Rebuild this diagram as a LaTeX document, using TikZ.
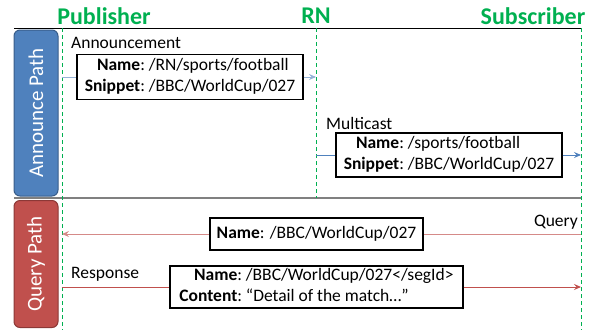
\documentclass[tikz,border=0pt]{standalone}
\usepackage{fontspec}
\setmainfont{Carlito}
\usetikzlibrary{arrows.meta}

\definecolor{lifegreen}{HTML}{00B050}
\definecolor{annblue}{HTML}{4F81BD}
\definecolor{annblueline}{HTML}{385D8A}
\definecolor{qryred}{HTML}{C0504D}
\definecolor{qryredline}{HTML}{8C3836}
\definecolor{lightblue}{HTML}{95B3D7}
\definecolor{lightred}{HTML}{D58A88}

\begin{document}
\begin{tikzpicture}[x=1pt, y=-1pt,
    actor/.style={font=\fontsize{24}{26}\selectfont\bfseries, text=lifegreen},
    lifeline/.style={lifegreen, dashed, dash pattern=on 4pt off 3pt, line width=1pt},
    pathbox/.style={rounded corners=6pt, line width=1pt, minimum height=44pt, rotate=90,
        text=white, font=\fontsize{21}{24}\selectfont},
    msgbox/.style={draw=black, fill=white, line width=1.3pt, inner sep=0pt,
        font=\fontsize{17.5}{21}\selectfont},
    msglabel/.style={font=\fontsize{17.5}{20}\selectfont, inner sep=0pt},
    msg/.style={-{Stealth[length=7pt, width=6pt, inset=2.5pt]}, line width=0.9pt}
]
    \useasboundingbox (0,0) rectangle (593,330);

    % Actors
    \node[actor] (publisher) at (104,16) {Publisher};
    \node[actor] (rn) at (316,16) {RN};
    \node[actor] (subscriber) at (533,16) {Subscriber};

    % Top and middle rules
    \coordinate (topL) at (14,28);
    \coordinate (topR) at (582,28);
    \coordinate (midL) at (14,198);
    \coordinate (midR) at (582,198);
    \draw[line width=0.9pt] (topL) -- (topR);
    \draw[gray, line width=1.5pt] (midL) -- (midR);

    % Path labels
    \node[pathbox, fill=annblue, draw=annblueline, minimum width=166pt] (announce) at (36,113) {Announce Path};
    \node[pathbox, fill=qryred, draw=qryredline, minimum width=127pt] (query) at (36,264) {Query Path};

    % Lifelines
    \coordinate (pubTop) at (62,28);
    \coordinate (pubBot) at (62,330);
    \coordinate (rnTop) at (316,28);
    \coordinate (rnBot) at (316,198);
    \coordinate (subTop) at (581,28);
    \coordinate (subBot) at (581,330);
    \draw[lifeline] (pubTop) -- (pubBot);
    \draw[lifeline] (rnTop) -- (rnBot);
    \draw[lifeline] (subTop) -- (subBot);

    % Announcement: Publisher -> RN
    \coordinate (pubA) at (62,77);
    \coordinate (rnA) at (316,77);
    \node[msglabel, anchor=west] (annlabel) at (71,43) {Announcement};
    \node[msgbox, minimum width=226pt, minimum height=45pt] (annbox) at (190,77) {%
        \begin{tabular}{@{}r@{:~}l@{}}
        \textbf{Name} & /RN/sports/football\\
        \textbf{Snippet} & /BBC/WorldCup/027
        \end{tabular}};
    \draw[lightblue, line width=0.9pt] (pubA) -- (annbox.west);
    \draw[msg, lightblue] (annbox.east) -- (rnA);

    % Multicast: RN -> Subscriber
    \coordinate (rnM) at (316,155);
    \coordinate (subM) at (581,155);
    \node[msglabel, anchor=west] (mcastlabel) at (326,123) {Multicast};
    \node[msgbox, minimum width=226pt, minimum height=44pt] (mcastbox) at (449,155) {%
        \begin{tabular}{@{}r@{:~}l@{}}
        \textbf{Name} & /sports/football\\
        \textbf{Snippet} & /BBC/WorldCup/027
        \end{tabular}};
    \draw[annblue, line width=0.9pt] (rnM) -- (mcastbox.west);
    \draw[msg, annblue] (mcastbox.east) -- (subM);

    % Query: Subscriber -> Publisher
    \coordinate (subQ) at (581,234);
    \coordinate (pubQ) at (62,234);
    \node[msglabel, anchor=east] (qrylabel) at (578,222) {Query};
    \node[msgbox, minimum width=213pt, minimum height=32pt] (qrybox) at (316.5,234) {%
        \textbf{Name}: /BBC/WorldCup/027};
    \draw[lightred, line width=0.9pt] (subQ) -- (qrybox.east);
    \draw[msg, lightred] (qrybox.west) -- (pubQ);

    % Response: Publisher -> Subscriber
    \coordinate (pubR) at (62,287);
    \coordinate (subR) at (581,287);
    \node[msglabel, anchor=west] (resplabel) at (71,274) {Response};
    \node[msgbox, minimum width=293pt, minimum height=42pt] (respbox) at (316.5,287) {%
        \begin{tabular}{@{}r@{:~}l@{}}
        \textbf{Name} & /BBC/WorldCup/027</segId>\\
        \textbf{Content} & “Detail of the match…”
        \end{tabular}};
    \draw[qryred, line width=0.9pt] (pubR) -- (respbox.west);
    \draw[msg, qryred] (respbox.east) -- (subR);

\end{tikzpicture}
\end{document}
